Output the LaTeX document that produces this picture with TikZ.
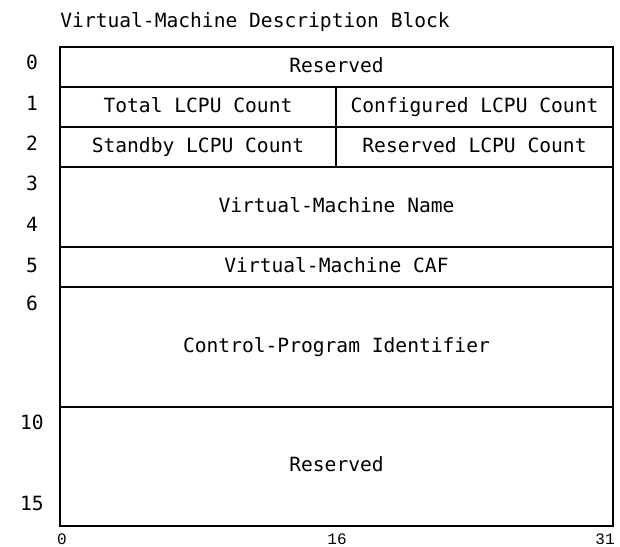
\documentclass[tikz,border=0pt]{standalone}
\usepackage{fontspec}
\usepackage{tikz}
\usetikzlibrary{positioning}
\newfontfamily\blockmono{DejaVu Sans Mono}
\newfontfamily\bitmono{Liberation Mono}
\definecolor{BlockInk}{HTML}{000000}

\begin{document}
\begin{tikzpicture}[
  x=0.5pt, y=-0.5pt,
  field/.style={draw=BlockInk, line width=1pt, anchor=north west,
                inner sep=0pt, minimum height=20pt,
                text height=7.2pt, text depth=1.8pt,
                font=\blockmono\fontsize{9.8}{12}\selectfont},
  rowno/.style={font=\blockmono\fontsize{9.8}{12}\selectfont, inner sep=0pt},
  bitno/.style={font=\bitmono\fontsize{8}{9}\selectfont, inner sep=0pt},
  caption/.style={font=\blockmono\fontsize{9.8}{12}\selectfont,
                  inner sep=0pt, anchor=west}
]
\useasboundingbox (0,0) rectangle (620,546);
\node[caption] (title) at (60,22) {Virtual-Machine Description Block};
% fields of the block
\node[field, minimum width=276.5pt] (resv0) at (59,46) {Reserved};
\node[field, minimum width=138pt] (total) at (59,86) {Total LCPU Count};
\node[field, minimum width=138.5pt] (config) at (335,86) {Configured LCPU Count};
\node[field, minimum width=138pt] (standby) at (59,126) {Standby LCPU Count};
\node[field, minimum width=138.5pt] (resvcpu) at (335,126) {Reserved LCPU Count};
\node[field, minimum width=276.5pt, minimum height=40pt] (vmname) at (59,166) {Virtual-Machine Name};
\node[field, minimum width=276.5pt] (vmcaf) at (59,246) {Virtual-Machine CAF};
\node[field, minimum width=276.5pt, minimum height=60pt] (cpid) at (59,286) {Control-Program Identifier};
\node[field, minimum width=276.5pt, minimum height=59.5pt] (resv10) at (59,406) {Reserved};
% word offsets
\node[rowno] (w0) at (32,62) {0};
\node[rowno] (w1) at (32,103) {1};
\node[rowno] (w2) at (32,143) {2};
\node[rowno] (w3) at (32,183) {3};
\node[rowno] (w4) at (32,224) {4};
\node[rowno] (w5) at (32,265) {5};
\node[rowno] (w6) at (32,303) {6};
\node[rowno] (w10) at (32,422) {10};
\node[rowno] (w15) at (32,503) {15};
% bit positions
\node[bitno] (b0) at (62,539) {0};
\node[bitno] (b16) at (337,539) {16};
\node[bitno] (b31) at (605,539) {31};
\end{tikzpicture}
\end{document}
